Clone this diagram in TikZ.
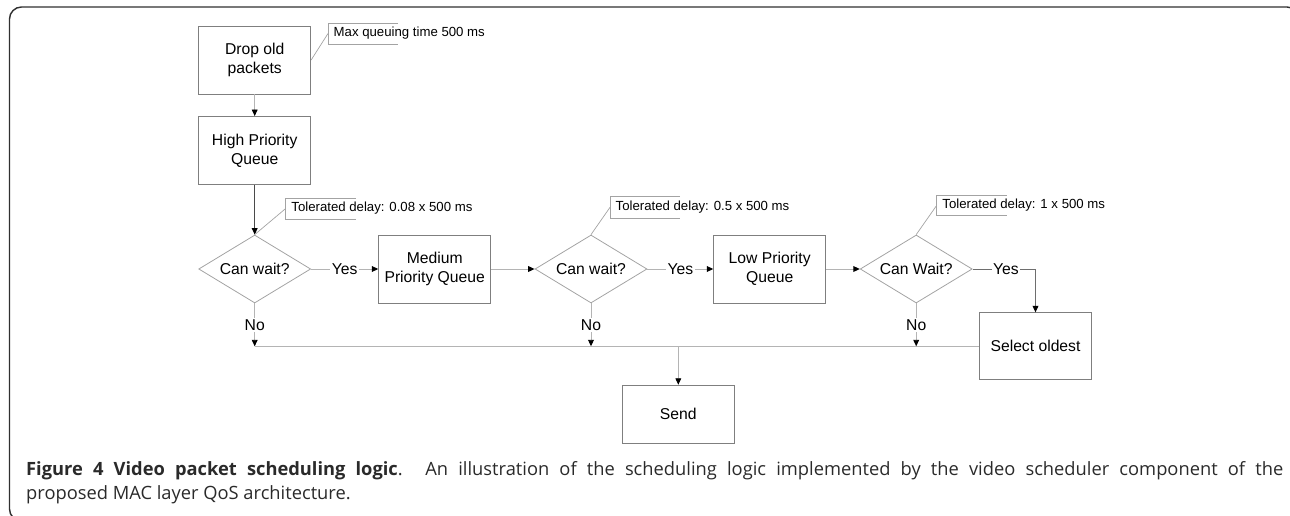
\documentclass[tikz,border=0pt]{standalone}
\usepackage{fontspec}
\setmainfont{Liberation Sans}
\newfontfamily\capfont{Open Sans}
\usetikzlibrary{arrows.meta,shapes.geometric,calc}

\definecolor{boxgray}{HTML}{7F7F7F}
\definecolor{diagray}{HTML}{A3A3A3}
\definecolor{linegray}{HTML}{B4B4B4}
\definecolor{darkline}{HTML}{4A4A4A}
\definecolor{framec}{HTML}{303030}
\definecolor{captext}{HTML}{2A2A2A}

% bracket-style annotation: #1 name, #2 left x, #3 top y, #4 bottom y, #5 text
\newcommand\notebox[5]{%
  \draw[bracketline] (#2+70,#3) -- (#2,#3) -- (#2,#4) -- (#2+70,#4);
  \coordinate (#1) at (#2,{(#3+#4)/2});
  \node[notetext, anchor=west] (#1-text) at (#2+5.5,{(#3+#4)/2}) {#5};
}

\begin{document}
\begin{tikzpicture}[x=1pt,y=-1pt,
  box/.style={draw=boxgray, line width=0.9pt, minimum width=112pt,
    minimum height=68pt, inner sep=0pt, align=center,
    font=\fontsize{15.7}{19.3}\selectfont},
  decision/.style={diamond, draw=diagray, line width=0.8pt, aspect=1.65,
    minimum width=112pt, minimum height=68pt, inner sep=0pt,
    font=\fontsize{15.7}{19.3}\selectfont},
  conn/.style={draw=linegray, line width=0.9pt,
    -{Triangle[length=6.5pt,width=5.8pt,black]}},
  busline/.style={draw=linegray, line width=0.9pt},
  lbl/.style={fill=white, inner sep=1.5pt, font=\fontsize{15.7}{19}\selectfont},
  bracketline/.style={draw=diagray, line width=0.8pt},
  leader/.style={draw=diagray, line width=0.7pt},
  notetext/.style={inner sep=0pt, font=\fontsize{13.2}{15}\selectfont},
  captionline/.style={inner sep=0pt, anchor=base west, text=captext,
    font=\capfont\fontsize{18.3}{24}\selectfont}
]
\useasboundingbox (0,0) rectangle (1290,516);

% outer frame
\draw[framec, line width=1.4pt, rounded corners=12pt] (9.5,7) rectangle (1299,521);

% process boxes and decisions
\node[box] (drop) at (254.7,60) {Drop old\\packets};
\node[box] (hpq) at (254.7,150.5) {High Priority\\Queue};
\node[decision] (d1) at (254.7,269) {Can wait?};
\node[box] (med) at (434.7,269) {Medium\\Priority Queue};
\node[decision] (d2) at (591,269) {Can wait?};
\node[box] (low) at (769.7,269) {Low Priority\\Queue};
\node[decision] (d3) at (916.2,269) {Can Wait?};
\node[box, minimum height=67pt] (sel) at (1035.5,346.3) {Select oldest};
\node[box, minimum height=58pt] (send) at (678.3,414.2) {Send};

% main flow
\draw[conn] (drop) -- (hpq);
\draw[conn, draw=darkline] (hpq) -- (d1);
\draw[conn] (d1) -- node[lbl]{Yes} (med);
\draw[conn] (med) -- (d2);
\draw[conn] (d2) -- node[lbl]{Yes} (low);
\draw[conn] (low) -- (d3);
\draw[conn, draw=darkline!80] (d3.east) -- node[lbl, pos=0.53]{Yes} (sel.north |- d3.east) -- (sel.north);

% "No" branches onto the common line to Send
\coordinate (busL) at (d1.south |- sel.west);
\draw[busline] (busL) -- (sel.west);
\draw[conn] (d1.south) -- node[lbl]{No} (d1.south |- sel.west);
\draw[conn] (d2.south) -- node[lbl]{No} (d2.south |- sel.west);
\draw[conn] (d3.south) -- node[lbl]{No} (d3.south |- sel.west);
\draw[conn] (send.north |- sel.west) -- (send.north);

% annotations
\notebox{n0}{328}{23}{44}{Max queuing time 500 ms}
\draw[leader] (drop.east) -- (n0);
\notebox{n1}{285.7}{198}{219}{Tolerated delay: 0.08 x 500 ms}
\draw[leader] (d1.north) -- (n1);
\notebox{n2}{610}{196.7}{218}{Tolerated delay: 0.5 x 500 ms}
\draw[leader] (d2.north) -- (n2);
\notebox{n3}{936.7}{195}{215.7}{Tolerated delay: 1 x 500 ms}
\draw[leader] (d3.north) -- (n3);

% caption
\node[captionline] (cap1) at (26,475) {\hbox to 1257pt{{\bfseries Figure 4 Video packet scheduling logic}. An illustration of the scheduling logic implemented by the video scheduler component of the}};
\node[captionline] (cap2) at (26,499) {proposed MAC layer QoS architecture.};
\end{tikzpicture}
\end{document}
